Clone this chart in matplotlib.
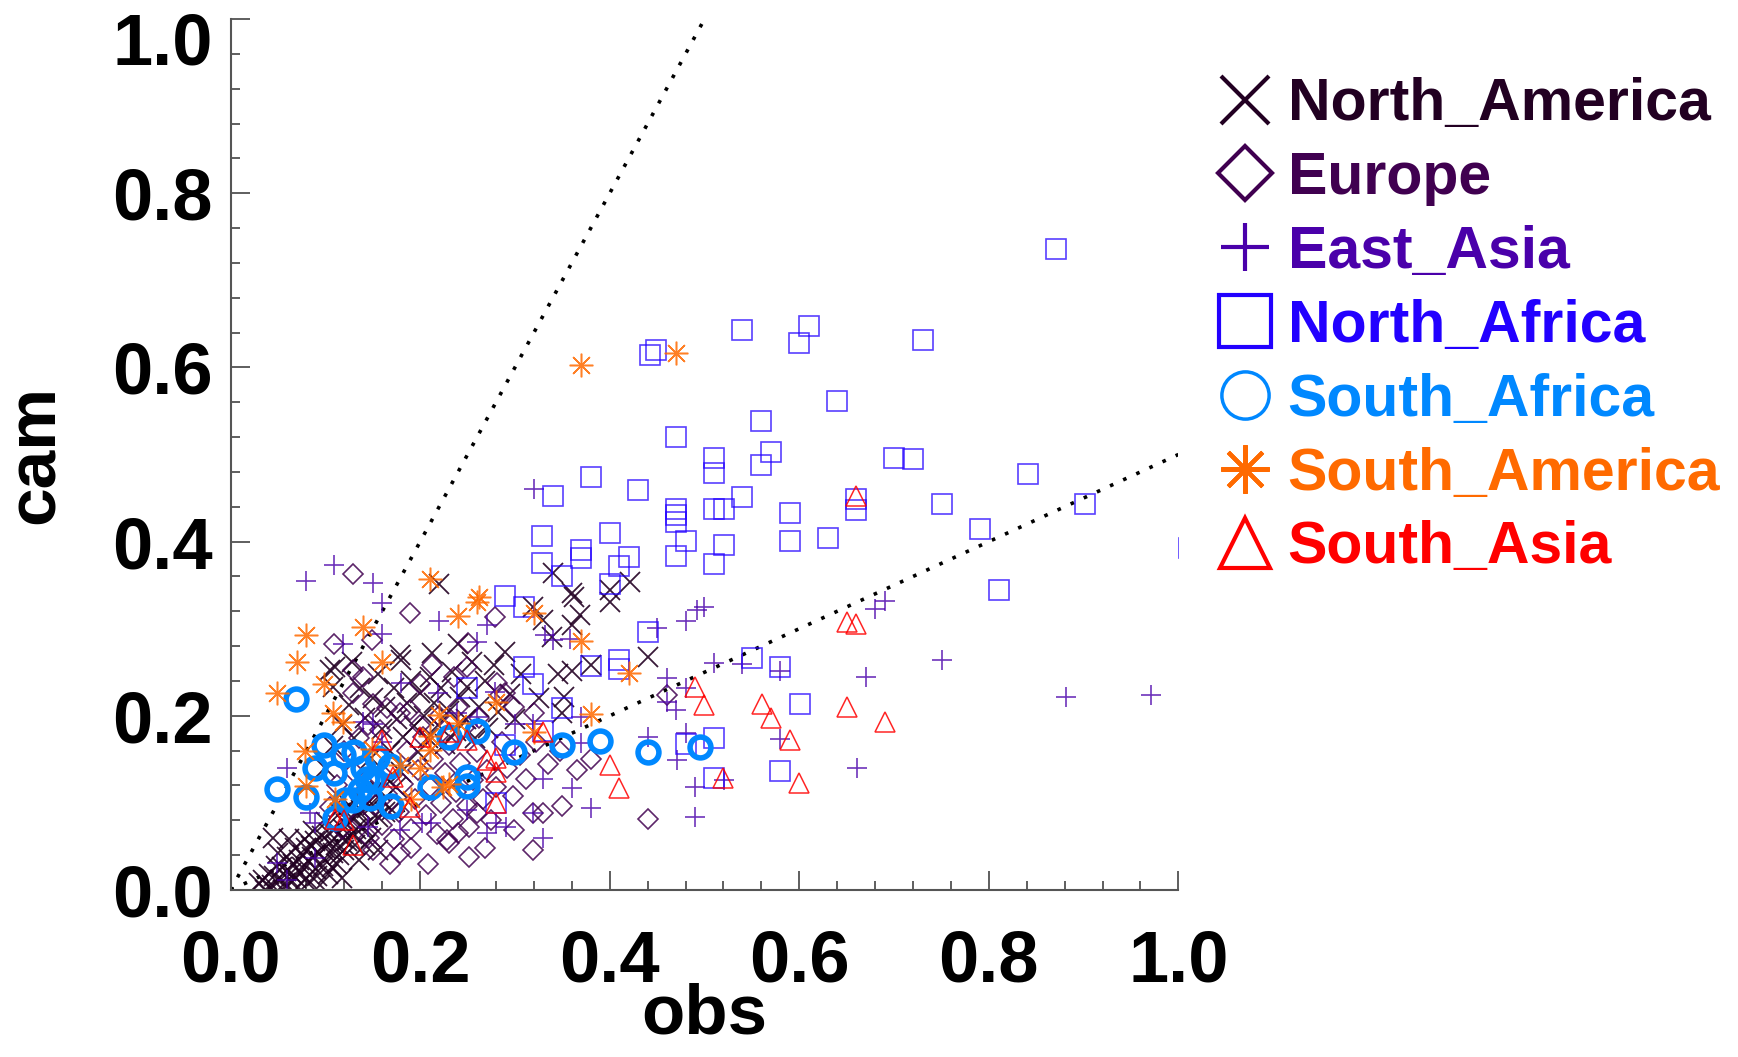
import numpy as np
import matplotlib
matplotlib.use("Agg")
import matplotlib.pyplot as plt
import matplotlib.transforms as mtransforms
from matplotlib.lines import Line2D
from matplotlib.ticker import MultipleLocator, FormatStrFormatter

plt.rcParams.update({
    "font.family": ["Liberation Sans", "DejaVu Sans"],
    "font.weight": "bold",
})

"""
Data (obs, cam) read off the reference
"""
north_america = [
    (0.030, 0.008), (0.036, 0.000), (0.040, 0.018), (0.044, 0.006), (0.048, 0.028), (0.052, 0.012),
    (0.055, 0.000), (0.058, 0.022), (0.060, 0.038), (0.063, 0.010), (0.066, 0.030), (0.068, 0.048),
    (0.071, 0.004), (0.073, 0.020), (0.076, 0.040), (0.078, 0.058), (0.080, 0.014), (0.083, 0.032),
    (0.085, 0.050), (0.087, 0.068), (0.090, 0.024), (0.092, 0.044), (0.094, 0.006), (0.096, 0.062),
    (0.099, 0.036), (0.101, 0.078), (0.103, 0.018), (0.105, 0.054), (0.108, 0.042), (0.110, 0.070),
    (0.112, 0.030), (0.115, 0.088), (0.117, 0.060), (0.120, 0.046), (0.122, 0.076), (0.125, 0.098),
    (0.128, 0.064), (0.131, 0.052), (0.134, 0.086), (0.137, 0.108), (0.140, 0.072), (0.144, 0.094),
    (0.148, 0.060), (0.152, 0.116), (0.156, 0.084), (0.160, 0.102), (0.165, 0.128), (0.170, 0.092),
    (0.175, 0.118), (0.180, 0.136), (0.062, 0.058), (0.050, 0.042), (0.118, 0.014), (0.135, 0.034),
    (0.155, 0.046), (0.045, 0.060),
    (0.034, 0.012), (0.042, 0.002), (0.046, 0.016), (0.054, 0.026), (0.057, 0.008), (0.064, 0.020),
    (0.069, 0.014), (0.072, 0.034), (0.075, 0.026), (0.079, 0.048), (0.082, 0.008), (0.086, 0.038),
    (0.089, 0.056), (0.091, 0.016), (0.097, 0.028), (0.100, 0.048), (0.104, 0.066), (0.107, 0.026),
    (0.111, 0.052), (0.114, 0.040), (0.119, 0.070), (0.123, 0.056), (0.127, 0.084), (0.132, 0.070),
    (0.138, 0.092), (0.142, 0.052), (0.146, 0.078), (0.150, 0.098), (0.158, 0.114), (0.163, 0.090),
    (0.100, 0.140), (0.108, 0.165), (0.110, 0.256), (0.118, 0.190), (0.125, 0.212), (0.130, 0.175),
    (0.136, 0.232), (0.142, 0.198), (0.148, 0.152), (0.150, 0.220), (0.155, 0.248), (0.160, 0.185),
    (0.163, 0.210), (0.168, 0.160), (0.172, 0.232), (0.176, 0.196), (0.180, 0.264), (0.182, 0.176),
    (0.186, 0.215), (0.190, 0.240), (0.194, 0.188), (0.198, 0.158), (0.200, 0.226), (0.204, 0.200),
    (0.208, 0.174), (0.210, 0.245), (0.212, 0.272), (0.215, 0.215), (0.219, 0.190), (0.220, 0.351),
    (0.222, 0.232), (0.226, 0.168), (0.230, 0.205), (0.234, 0.250), (0.238, 0.182), (0.240, 0.283),
    (0.242, 0.222), (0.248, 0.196), (0.249, 0.233), (0.255, 0.262), (0.258, 0.175), (0.262, 0.210),
    (0.268, 0.240), (0.272, 0.186), (0.278, 0.258), (0.282, 0.204), (0.290, 0.273), (0.295, 0.225),
    (0.300, 0.196), (0.306, 0.248), (0.319, 0.325), (0.325, 0.220), (0.330, 0.310), (0.339, 0.290),
    (0.340, 0.364), (0.345, 0.248), (0.350, 0.203), (0.352, 0.222), (0.360, 0.341), (0.362, 0.336),
    (0.360, 0.304), (0.369, 0.316), (0.360, 0.252), (0.380, 0.258), (0.400, 0.345), (0.400, 0.331),
    (0.421, 0.354), (0.440, 0.267), (0.179, 0.270), (0.105, 0.253), (0.108, 0.233), (0.128, 0.262),
]

europe = [
    (0.129, 0.363), (0.189, 0.318), (0.109, 0.283), (0.149, 0.287), (0.279, 0.313), (0.250, 0.284),
    (0.249, 0.256), (0.281, 0.238), (0.284, 0.224), (0.129, 0.253), (0.140, 0.245), (0.129, 0.226),
    (0.150, 0.214), (0.165, 0.209), (0.179, 0.203), (0.189, 0.207), (0.158, 0.184), (0.290, 0.226),
    (0.299, 0.210), (0.460, 0.224), (0.320, 0.203), (0.319, 0.088), (0.330, 0.088), (0.350, 0.096),
    (0.319, 0.046), (0.299, 0.069), (0.440, 0.081), (0.230, 0.054), (0.240, 0.065), (0.228, 0.057),
    (0.179, 0.042), (0.150, 0.046), (0.260, 0.088), (0.249, 0.096),
    (0.105, 0.095), (0.112, 0.120), (0.118, 0.070), (0.124, 0.100), (0.130, 0.135), (0.136, 0.082),
    (0.140, 0.112), (0.146, 0.060), (0.152, 0.098), (0.156, 0.130), (0.160, 0.075), (0.165, 0.110),
    (0.170, 0.145), (0.172, 0.058), (0.178, 0.090), (0.182, 0.122), (0.186, 0.160), (0.190, 0.070),
    (0.195, 0.104), (0.198, 0.138), (0.203, 0.176), (0.206, 0.086), (0.210, 0.118), (0.214, 0.150),
    (0.218, 0.064), (0.222, 0.100), (0.226, 0.134), (0.230, 0.166), (0.235, 0.082), (0.238, 0.112),
    (0.242, 0.146), (0.246, 0.186), (0.252, 0.072), (0.256, 0.126), (0.260, 0.158), (0.266, 0.104),
    (0.270, 0.138), (0.275, 0.080), (0.280, 0.118), (0.286, 0.170), (0.292, 0.140), (0.298, 0.108),
    (0.305, 0.155), (0.312, 0.128), (0.322, 0.170), (0.335, 0.145), (0.348, 0.160), (0.365, 0.138),
    (0.380, 0.150), (0.120, 0.160), (0.135, 0.175), (0.145, 0.190), (0.200, 0.190), (0.220, 0.200),
    (0.240, 0.210), (0.262, 0.198), (0.268, 0.048), (0.252, 0.038), (0.208, 0.030), (0.190, 0.048),
    (0.168, 0.030), (0.236, 0.244), (0.212, 0.258), (0.200, 0.236),
]

east_asia = [
    (0.080, 0.355), (0.109, 0.373), (0.150, 0.353), (0.160, 0.330), (0.160, 0.294), (0.119, 0.283),
    (0.220, 0.309), (0.180, 0.238), (0.219, 0.226), (0.320, 0.460), (0.500, 0.325), (0.481, 0.309),
    (0.450, 0.301), (0.260, 0.285), (0.270, 0.304), (0.332, 0.293), (0.340, 0.287), (0.358, 0.288),
    (0.460, 0.243), (0.470, 0.207), (0.490, 0.118), (0.490, 0.084), (0.480, 0.180), (0.471, 0.149),
    (0.440, 0.176), (0.380, 0.094), (0.360, 0.117), (0.330, 0.128), (0.330, 0.060), (0.280, 0.077),
    (0.270, 0.065), (0.249, 0.092), (0.211, 0.077), (0.179, 0.069), (0.150, 0.191), (0.239, 0.203),
    (0.260, 0.199), (0.279, 0.227), (0.300, 0.191), (0.319, 0.191), (0.370, 0.199), (0.370, 0.169),
    (0.059, 0.140), (0.049, 0.031), (0.059, 0.011), (0.089, 0.077), (0.291, 0.072), (0.319, 0.088),
    (0.510, 0.261), (0.540, 0.259), (0.670, 0.245), (0.480, 0.232), (0.460, 0.216), (0.580, 0.173),
    (0.521, 0.126), (0.661, 0.140), (0.580, 0.252), (0.680, 0.323), (0.690, 0.332), (0.751, 0.264),
    (0.881, 0.222), (0.971, 0.224), (0.140, 0.193), (0.160, 0.170), (0.089, 0.037), (0.145, 0.072),
    (0.202, 0.077), (0.084, 0.088), (0.492, 0.321),
]

north_africa = [
    (0.871, 0.736), (0.443, 0.614), (0.449, 0.620), (0.540, 0.643), (0.610, 0.647), (0.600, 0.628),
    (0.731, 0.632), (0.640, 0.562), (0.560, 0.539), (0.470, 0.520), (0.510, 0.496), (0.510, 0.479),
    (0.570, 0.503), (0.560, 0.488), (0.700, 0.496), (0.720, 0.495), (0.841, 0.478), (0.901, 0.443),
    (0.660, 0.449), (0.660, 0.436), (0.751, 0.443), (0.540, 0.451), (0.510, 0.437), (0.521, 0.438),
    (0.470, 0.438), (0.470, 0.430), (0.470, 0.422), (0.590, 0.433), (0.791, 0.414), (0.481, 0.401),
    (0.521, 0.396), (0.590, 0.401), (0.630, 0.404), (0.470, 0.383), (0.510, 0.374), (0.811, 0.344),
    (1.011, 0.393), (0.380, 0.474), (0.430, 0.459), (0.340, 0.452), (0.329, 0.407), (0.400, 0.410),
    (0.370, 0.390), (0.370, 0.381), (0.420, 0.382), (0.410, 0.372), (0.329, 0.375), (0.350, 0.360),
    (0.400, 0.351), (0.290, 0.337), (0.310, 0.325), (0.440, 0.296), (0.310, 0.256), (0.319, 0.236),
    (0.380, 0.257), (0.410, 0.264), (0.410, 0.254), (0.249, 0.232), (0.350, 0.209), (0.330, 0.183),
    (0.290, 0.166), (0.280, 0.100), (0.550, 0.266), (0.580, 0.256), (0.601, 0.214), (0.510, 0.174),
    (0.480, 0.168), (0.510, 0.129), (0.580, 0.137),
]

south_africa = [
    (0.069, 0.219), (0.049, 0.116), (0.099, 0.166), (0.089, 0.140), (0.080, 0.107), (0.109, 0.134),
    (0.119, 0.155), (0.130, 0.158), (0.140, 0.140), (0.144, 0.128), (0.137, 0.115), (0.110, 0.083),
    (0.129, 0.103), (0.168, 0.142), (0.169, 0.097), (0.210, 0.118), (0.230, 0.176), (0.260, 0.183),
    (0.249, 0.130), (0.249, 0.119), (0.299, 0.159), (0.350, 0.167), (0.390, 0.171), (0.440, 0.159),
    (0.495, 0.164), (0.150, 0.125), (0.147, 0.106), (0.154, 0.151), (0.121, 0.103),
]

south_america = [
    (0.370, 0.603), (0.470, 0.617), (0.210, 0.357), (0.260, 0.331), (0.262, 0.336), (0.240, 0.315),
    (0.140, 0.302), (0.080, 0.293), (0.070, 0.262), (0.160, 0.262), (0.099, 0.236), (0.049, 0.226),
    (0.320, 0.318), (0.370, 0.286), (0.420, 0.249), (0.280, 0.216), (0.380, 0.202), (0.108, 0.203),
    (0.119, 0.193), (0.220, 0.201), (0.240, 0.192), (0.320, 0.181), (0.078, 0.160), (0.149, 0.162),
    (0.210, 0.161), (0.200, 0.140), (0.179, 0.143), (0.079, 0.119), (0.110, 0.105), (0.230, 0.122),
    (0.190, 0.105), (0.224, 0.118), (0.210, 0.177),
]

south_asia = [
    (0.660, 0.452), (0.650, 0.308), (0.660, 0.305), (0.490, 0.233), (0.500, 0.212), (0.561, 0.214),
    (0.570, 0.197), (0.590, 0.172), (0.520, 0.129), (0.600, 0.123), (0.650, 0.210), (0.690, 0.193),
    (0.400, 0.143), (0.410, 0.117), (0.330, 0.181), (0.270, 0.149), (0.280, 0.152), (0.280, 0.135),
    (0.280, 0.100), (0.249, 0.172), (0.230, 0.181), (0.200, 0.176), (0.160, 0.172), (0.171, 0.130),
    (0.189, 0.095), (0.129, 0.052), (0.110, 0.082), (0.120, 0.080),
]

ref_slopes = [2.0, 0.5]

names = ["North_America", "Europe", "East_Asia", "North_Africa",
         "South_Africa", "South_America", "South_Asia"]
groups = [north_america, europe, east_asia, north_africa,
          south_africa, south_america, south_asia]
colors = ["#220022", "#400050", "#4a00aa", "#2200ff", "#0088ff", "#ff6a00", "#ff0000"]
markers = ["x", "D", "+", "s", "o", (8, 2, 0), "^"]
sizes = [14.5, 10.5, 14.5, 15, 15, 17, 14.5]
widths = [1.3, 1.2, 1.2, 1.2, 4.0, 1.1, 1.1]
alphas = [0.9, 0.85, 0.8, 0.75, 1.0, 0.85, 0.85]
leg_sizes = [34, 27, 34, 37, 34, 35, 36]

fig = plt.figure(figsize=(17.38, 10.57), dpi=100)
ax = fig.add_axes([0.1327, 0.158, 0.5453, 0.824])

for slope in ref_slopes:
    xx = np.array([0.0, min(1.0, 1.0 / slope)])
    ax.plot(xx, slope * xx, color="black", lw=2.6, linestyle=(0, (1, 3)), zorder=1)

for g, c, m, s, w, a in zip(groups, colors, markers, sizes, widths, alphas):
    d = np.array(g)
    ax.plot(d[:, 0], d[:, 1], linestyle="none", marker=m, markersize=s,
            markerfacecolor="none", markeredgecolor=c, markeredgewidth=w,
            alpha=a, zorder=2)

ax.set_xlim(0, 1)
ax.set_ylim(0, 1)
for side in ["top", "right"]:
    ax.spines[side].set_visible(False)
for side in ["left", "bottom"]:
    ax.spines[side].set_color("#555555")
    ax.spines[side].set_linewidth(1.5)

ax.xaxis.set_major_locator(MultipleLocator(0.2))
ax.xaxis.set_minor_locator(MultipleLocator(0.04))
ax.yaxis.set_major_locator(MultipleLocator(0.2))
ax.yaxis.set_minor_locator(MultipleLocator(0.04))
ax.xaxis.set_major_formatter(FormatStrFormatter("%.1f"))
ax.yaxis.set_major_formatter(FormatStrFormatter("%.1f"))
ax.tick_params(which="both", direction="in", color="#333333", width=1.1,
               top=False, right=False, labelsize=52)
ax.tick_params(which="major", length=14)
ax.tick_params(which="minor", length=6.5)
ax.tick_params(axis="y", pad=13)
ax.tick_params(axis="x", pad=28)

# the top y label sits a little lower, as in the reference
fig.canvas.draw()
for tick in ax.yaxis.get_major_ticks():
    if abs(tick.get_loc() - 1.0) < 1e-6:
        lab = tick.label1
        lab.set_transform(lab.get_transform()
                          + mtransforms.ScaledTranslation(0, -0.19, fig.dpi_scale_trans))

ax.set_xlabel("obs", fontsize=51, fontweight="bold")
ax.set_ylabel("cam", fontsize=50, fontweight="bold")
ax.xaxis.set_label_coords(0.5, -0.106)
ax.yaxis.set_label_coords(-0.172, 0.5)

handles = [Line2D([], [], linestyle="none", marker=m, markersize=ls,
                  markerfacecolor="none", markeredgecolor=c, markeredgewidth=3)
           for m, c, ls in zip(markers, colors, leg_sizes)]
handles[4].set_markeredgewidth(2.5)
leg = fig.legend(handles, names, loc="upper left", bbox_to_anchor=(0.6994, 0.927),
                 frameon=False, fontsize=42.5, handlelength=1.0, handletextpad=0.22,
                 labelspacing=0.32, borderpad=0, borderaxespad=0)
for txt, c in zip(leg.get_texts(), colors):
    txt.set_color(c)
    txt.set_fontweight("bold")

fig.savefig("out.png", dpi=100)
